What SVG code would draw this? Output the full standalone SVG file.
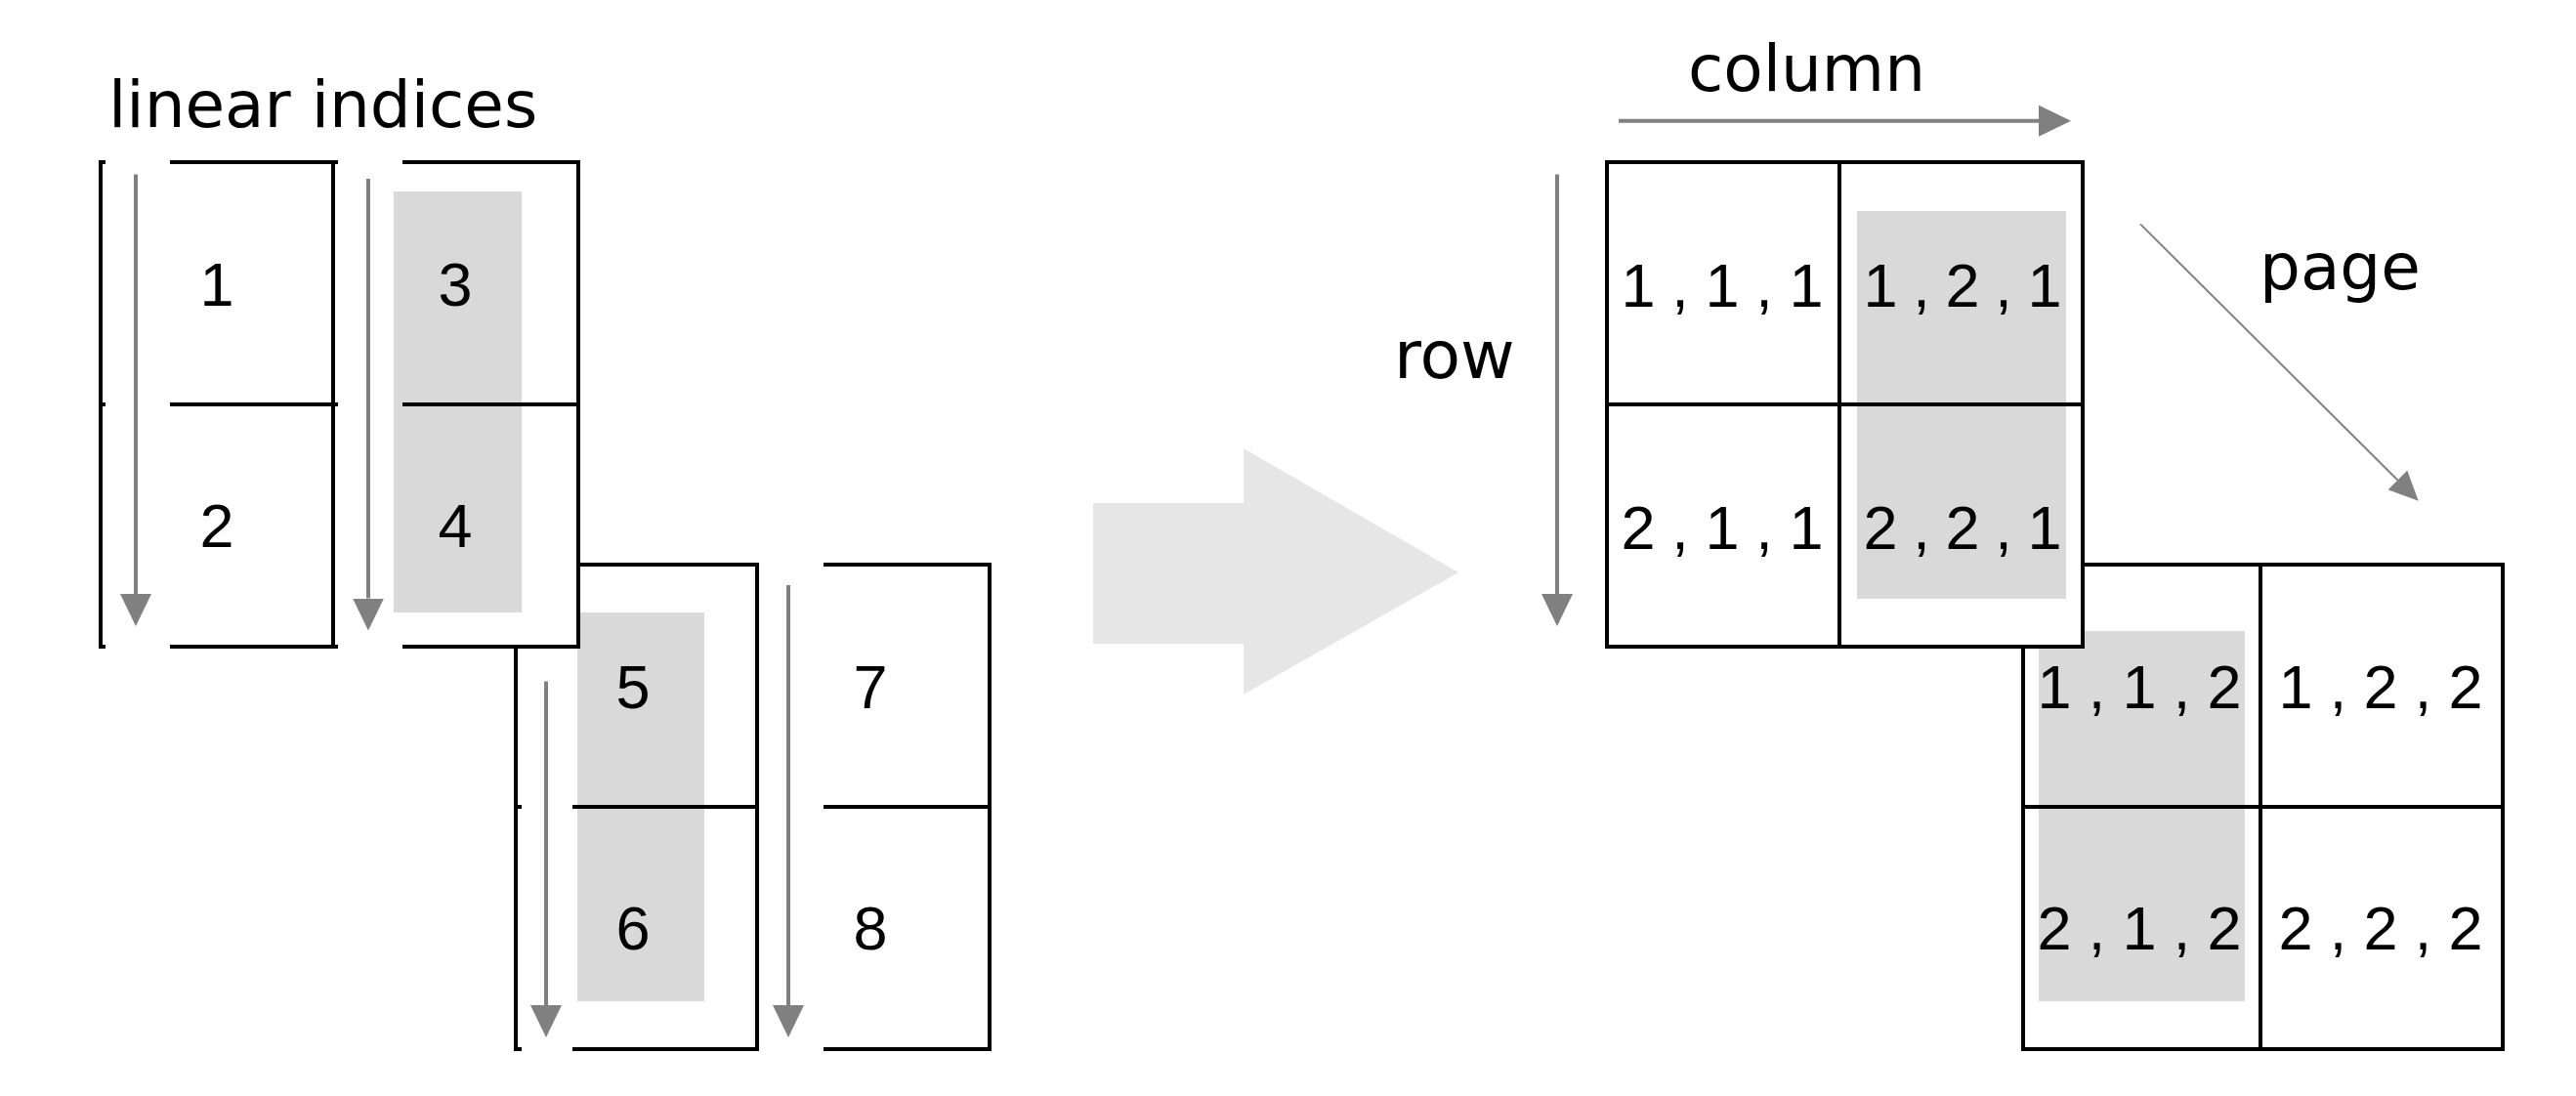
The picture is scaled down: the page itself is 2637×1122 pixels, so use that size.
<svg xmlns="http://www.w3.org/2000/svg" width="2637" height="1122" viewBox="0 0 2637 1122">
<style>
.ln{stroke:#000;stroke-width:4;fill:none}
.box{stroke:#000;stroke-width:4;fill:#fff}
.wh{fill:#fff}
.hl{fill:#d9d9d9}
.big{fill:#e6e6e6}
.lbl{font-family:"DejaVu Sans",Verdana,sans-serif;font-size:66px;fill:#000}
.num{font-family:"Liberation Sans",Arial,sans-serif;font-size:63px;fill:#000;text-anchor:middle}
.arr{stroke:#808080;stroke-width:4;fill:none}
.arr2{stroke:#808080;stroke-width:2;fill:none}
</style>
<defs>
<marker id="ah" markerUnits="userSpaceOnUse" markerWidth="33" markerHeight="32" refX="0" refY="16" orient="auto" viewBox="0 0 33 32">
<path d="M0,0 L33,16 L0,32 Z" fill="#808080"/>
</marker>
<marker id="ah2" markerUnits="userSpaceOnUse" markerWidth="30" markerHeight="28" refX="0" refY="14" orient="auto" viewBox="0 0 30 28">
<path d="M0,0 L30,14 L0,28 Z" fill="#808080"/>
</marker>
</defs>
<rect x="0" y="0" width="2637" height="1122" fill="#fff"/>

<text class="lbl" x="111" y="130">linear indices</text>
<text class="lbl" x="1728" y="93">column</text>
<text class="lbl" x="1427" y="387" style="font-size:68px">row</text>
<text class="lbl" x="2313" y="296">page</text>

<!-- left: page 2 columns -->
<g id="col3">
<rect class="hl" x="591" y="627" width="130" height="398"/>
<path class="ln" d="M534,578 H528 V1074 H534 M528,826 H534 M586,578 H777 M586,826 H777 M586,1074 H777 M775,578 V1074"/>
<text class="num" x="648" y="725">5</text>
<text class="num" x="648" y="972">6</text>
</g>
<g id="col4">
<path class="ln" d="M843,578 H1015 M843,826 H1015 M843,1074 H1015 M1013,578 V1074"/>
<text class="num" x="891" y="725">7</text>
<text class="num" x="891" y="972">8</text>
</g>

<!-- left: page 1 columns -->
<g id="col1">
<rect class="wh" x="101" y="164" width="493" height="500"/>
<path class="ln" d="M108,166 H103 V662 H108 M103,414 H108 M174,166 H346 M174,414 H346 M174,662 H346 M341,166 V662"/>
<text class="num" x="222" y="312.5">1</text>
<text class="num" x="222" y="560">2</text>
</g>
<g id="col2">
<rect class="hl" x="403" y="196" width="131" height="431"/>
<path class="ln" d="M412,166 H594 M412,414 H594 M412,662 H594 M592,166 V662"/>
<text class="num" x="466" y="312.5">3</text>
<text class="num" x="466" y="560">4</text>
</g>

<!-- big arrow -->
<g id="transform-arrow">
<polygon class="big" points="1119,515 1273,515 1273,459 1493,586 1273,711 1273,659 1119,659"/>
</g>

<!-- right: page 2 -->
<g id="page2">
<rect class="box" x="2071" y="578" width="491" height="496"/>
<rect class="hl" x="2087" y="646" width="211" height="379"/>
<path class="ln" d="M2314,578 V1074 M2071,826 H2562"/>
<text class="num" x="2103 2146.5 2190 2233.5 2277" y="725">1,1,2</text>
<text class="num" x="2350 2393.5 2437 2480.5 2524" y="725">1,2,2</text>
<text class="num" x="2103 2146.5 2190 2233.5 2277" y="971.5">2,1,2</text>
<text class="num" x="2350 2393.5 2437 2480.5 2524" y="971.5">2,2,2</text>
</g>

<!-- right: page 1 -->
<g id="page1">
<rect class="box" x="1645" y="166" width="487" height="496"/>
<rect class="hl" x="1901" y="216" width="214" height="397"/>
<path class="ln" d="M1883,166 V662 M1645,414 H2132"/>
<text class="num" x="1677 1720 1763 1806 1849" y="313.8">1,1,1</text>
<text class="num" x="1925 1967 2009 2051 2093" y="313.8">1,2,1</text>
<text class="num" x="1677 1720 1763 1806 1849" y="561.6">2,1,1</text>
<text class="num" x="1925 1967 2009 2051 2093" y="561.6">2,2,1</text>
</g>

<g id="connectors">
<line class="arr" x1="139" y1="178.5" x2="139" y2="608" marker-end="url(#ah)"/>
<line class="arr" x1="377" y1="183" x2="377" y2="612.5" marker-end="url(#ah)"/>
<line class="arr" x1="559" y1="697.6" x2="559" y2="1029" marker-end="url(#ah)"/>
<line class="arr" x1="807" y1="599" x2="807" y2="1029" marker-end="url(#ah)"/>
<line class="arr" x1="1657" y1="123.7" x2="2087" y2="123.7" marker-end="url(#ah)"/>
<line class="arr" x1="1594" y1="178.6" x2="1594" y2="608" marker-end="url(#ah)"/>
<line class="arr2" x1="2191" y1="229.4" x2="2454.4" y2="491.5" marker-end="url(#ah2)"/>
</g>
</svg>
